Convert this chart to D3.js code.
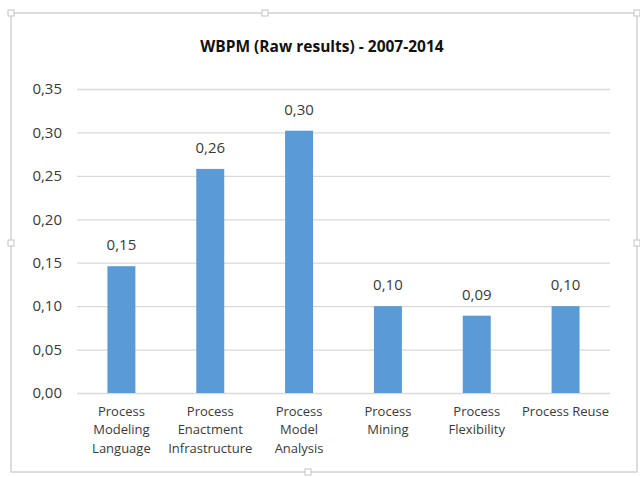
<!DOCTYPE html>
<html>
<head>
<meta charset="utf-8">
<script src="https://cdn.jsdelivr.net/npm/d3@7"></script>
<style>
  html, body { margin: 0; padding: 0; background: #fff; }
  svg { display: block; }
</style>
</head>
<body>
<svg id="chart" width="640" height="477"></svg>
<script>
// ---- data ----
const categories = [
  "Process Modeling Language",
  "Process Enactment Infrastructure",
  "Process Model Analysis",
  "Process Mining",
  "Process Flexibility",
  "Process Reuse"
];
const categoryLines = [
  ["Process", "Modeling", "Language"],
  ["Process", "Enactment", "Infrastructure"],
  ["Process", "Model", "Analysis"],
  ["Process", "Mining"],
  ["Process", "Flexibility"],
  ["Process Reuse"]
];
const values = [0.146, 0.258, 0.302, 0.100, 0.089, 0.100];
const yTicks = [0, 0.05, 0.10, 0.15, 0.20, 0.25, 0.30, 0.35];
const title = "WBPM (Raw results) - 2007-2014";

// ---- layout ----
const svg = d3.select("#chart");
const font = "'Open Sans', 'Noto Sans', sans-serif";
const plot = { left: 77, right: 610, top: 89, bottom: 393 };

// chart frame
svg.append("rect")
  .attr("x", 11).attr("y", 13).attr("width", 626).attr("height", 459)
  .attr("fill", "#fff").attr("stroke", "#d2d2d2").attr("stroke-width", 1.5);

// selection handles
const handles = [[11, 13], [265, 13], [637, 13], [11, 243], [637, 243], [308, 472]];
svg.selectAll("rect.handle").data(handles).enter().append("rect")
  .attr("class", "handle")
  .attr("x", d => d[0] - 3).attr("y", d => d[1] - 3)
  .attr("width", 6).attr("height", 6)
  .attr("fill", "#fff").attr("stroke", "#c4c4c4").attr("stroke-width", 1);

const x = d3.scaleBand()
  .domain(categories)
  .range([plot.left, plot.right])
  .paddingInner(0.685)
  .paddingOuter(0.3425);

const y = d3.scaleLinear()
  .domain([0, 0.35])
  .range([plot.bottom, plot.top]);

const fmt = v => d3.format(".2f")(v).replace(".", ",");

// gridlines + y axis labels
const yAxis = d3.axisLeft(y)
  .tickValues(yTicks)
  .tickSize(-(plot.right - plot.left))
  .tickPadding(15)
  .tickFormat(fmt);

const gy = svg.append("g")
  .attr("transform", `translate(${plot.left},0)`)
  .call(yAxis);
gy.select(".domain").remove();
gy.selectAll(".tick line").attr("stroke", "#d9d9d9").attr("stroke-width", 1.3);
gy.selectAll(".tick text")
  .attr("fill", "#3a3a3a")
  .style("font-family", font)
  .style("font-size", "15px");

// bars
svg.selectAll("rect.bar").data(values).enter().append("rect")
  .attr("class", "bar")
  .attr("x", (d, i) => x(categories[i]))
  .attr("y", d => y(d))
  .attr("width", x.bandwidth())
  .attr("height", d => y(0) - y(d))
  .attr("fill", "#5b9bd5");

// data labels
svg.selectAll("text.dl").data(values).enter().append("text")
  .attr("class", "dl")
  .attr("x", (d, i) => x(categories[i]) + x.bandwidth() / 2)
  .attr("y", d => y(d) - 16)
  .attr("text-anchor", "middle")
  .attr("fill", "#3a3a3a")
  .style("font-family", font)
  .style("font-size", "15px")
  .text(d => fmt(d));

// x axis category labels
const xg = svg.append("g");
categoryLines.forEach((lines, i) => {
  const t = xg.append("text")
    .attr("x", x(categories[i]) + x.bandwidth() / 2)
    .attr("y", 415.5)
    .attr("text-anchor", "middle")
    .attr("fill", "#3a3a3a")
    .style("font-family", font)
    .style("font-size", "13px");
  lines.forEach((ln, j) => {
    t.append("tspan")
      .attr("x", x(categories[i]) + x.bandwidth() / 2)
      .attr("dy", j === 0 ? 0 : 18.8)
      .text(ln);
  });
});

// title
svg.append("text")
  .attr("x", 322)
  .attr("y", 52)
  .attr("text-anchor", "middle")
  .attr("fill", "#111")
  .style("font-family", font)
  .style("font-weight", "bold")
  .style("font-size", "15.5px")
  .text(title);
</script>
</body>
</html>
